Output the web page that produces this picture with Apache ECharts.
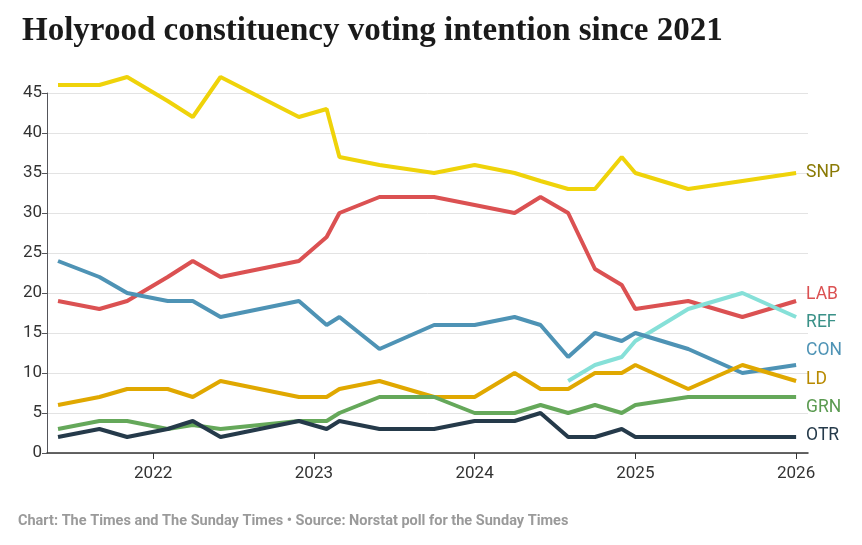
<!DOCTYPE html>
<html><head><meta charset="utf-8">
<script src="https://cdn.jsdelivr.net/npm/echarts@6/dist/echarts.min.js"></script>
<style>html,body{margin:0;padding:0;background:#fff}#c{width:862px;height:545px}</style>
</head><body><div id="c"></div>
<script>
const dates = ['2021-05-30','2021-09-01','2021-11-03','2022-02-03','2022-04-01','2022-06-03','2022-11-28','2023-01-30','2023-02-28','2023-05-30','2023-10-01','2024-01-01','2024-04-01','2024-05-30','2024-08-01','2024-10-01','2024-12-01','2025-01-01','2025-05-01','2025-09-01','2026-01-01'];
const SNP = [46,46,47,44,42,47,42,43,37,36,35,36,35,34,33,33,37,35,33,34,35];
const LAB = [19,18,19,22,24,22,24,27,30,32,32,31,30,32,30,23,21,18,19,17,19];
const CON = [24,22,20,19,19,17,19,16,17,13,16,16,17,16,12,15,14,15,13,10,11];
const REF = [null,null,null,null,null,null,null,null,null,null,null,null,null,null,9,11,12,14,18,20,17];
const LD  = [6,7,8,8,7,9,7,7,8,9,7,7,10,8,8,10,10,11,8,11,9];
const GRN = [3,4,4,3,3.5,3,4,4,5,7,7,5,5,6,5,6,5,6,7,7,7];
const OTR = [2,3,2,3,4,2,4,3,4,3,3,4,4,5,2,2,3,2,2,2,2];
const yearTicks = [2022, 2023, 2024, 2025, 2026];

// convert ISO date to fractional year
const yf = d => { const t = new Date(d + 'T00:00:00Z'); const y = t.getUTCFullYear();
  const a = Date.UTC(y,0,1), b = Date.UTC(y+1,0,1); return y + (t.getTime()-a)/(b-a); };
const defs = [
  ['SNP', SNP, '#EFD30A', '#8A7A05', 0],
  ['LAB', LAB, '#DB5152', '#DB5152', -6],
  ['REF', REF, '#86E0D8', '#3A9188', 6],
  ['CON', CON, '#4E93B5', '#4E93B5', -14],
  ['LD',  LD,  '#E0A800', '#B88A00', -1],
  ['GRN', GRN, '#65A85A', '#5A9A50', 11],
  ['OTR', OTR, '#253A4A', '#253A4A', -1]
];
const chart = echarts.init(document.getElementById('c'), null, {renderer:'canvas'});
chart.setOption({
  animation:false,
  textStyle:{fontFamily:'Roboto'},
  title:{text:'Holyrood constituency voting intention since 2021', left:17, top:10,
    textStyle:{fontFamily:'Liberation Serif', fontWeight:'bold', fontSize:33, color:'#1a1a1a'}},
  graphic:[{type:'text', left:18, top:514, style:{text:'Chart: The Times and The Sunday Times • Source: Norstat poll for the Sunday Times',
    fill:'#9a9a9a', font:'bold 14.5px Roboto'}}],
  grid:{left:47, right:54, top:93, bottom:92},
  xAxis:{type:'value', min:yf('2021-05-05'), max:yf('2026-01-28'),
    axisLine:{lineStyle:{color:'#333', width:1.5}},
    axisTick:{show:true, customValues:yearTicks, length:6, lineStyle:{color:'#333'}},
    axisLabel:{customValues:yearTicks, formatter:v=>String(Math.round(v)), fontSize:17, color:'#333', margin:12},
    splitLine:{show:false}},
  yAxis:{type:'value', min:0, max:45, interval:5,
    axisLabel:{fontSize:17, color:'#333', margin:5},
    splitLine:{lineStyle:{color:'#e3e3e3'}}},
  series: defs.map(([n, arr, c, lc, dy]) => ({
    name:n, type:'line', clip:false, showSymbol:false, symbol:'none',
    lineStyle:{color:c, width:4}, itemStyle:{color:c},
    data: dates.map((d,i)=>[yf(d), arr[i]]),
    endLabel:{show:true, formatter:n, color:lc, fontSize:17.5, distance:0, offset:[10, dy]}
  }))
});
</script></body></html>
